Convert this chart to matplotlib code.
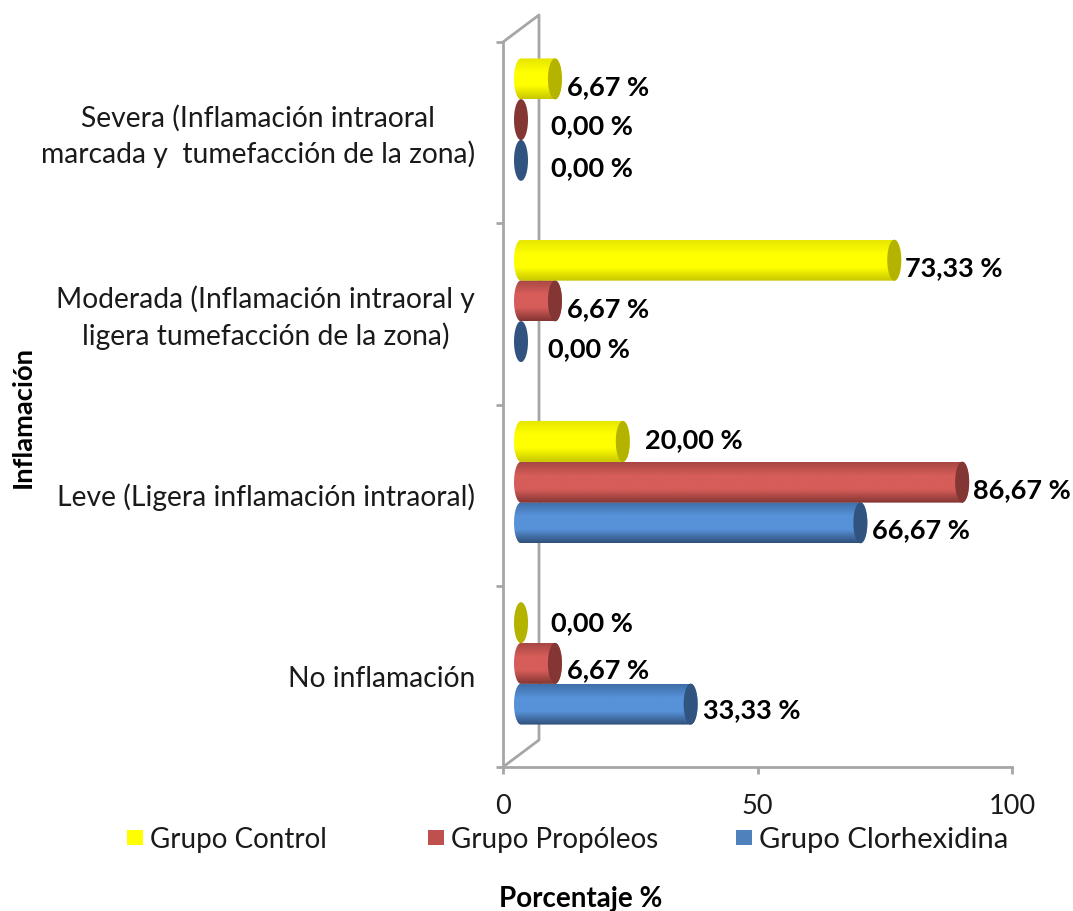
import matplotlib
matplotlib.use('Agg')
import matplotlib.pyplot as plt
import numpy as np
from matplotlib.colors import LinearSegmentedColormap
from matplotlib.patches import Polygon, Rectangle
from matplotlib.transforms import ScaledTranslation

plt.rcParams['font.family'] = ['Lato', 'DejaVu Sans']

categories = ['No inflamación',
              'Leve (Ligera inflamación intraoral)',
              'Moderada (Inflamación intraoral y\nligera tumefacción de la zona)',
              'Severa (Inflamación intraoral\nmarcada y  tumefacción de la zona)']
clorhexidina = [33.33, 66.67, 0.00, 0.00]
propoleos = [6.67, 86.67, 6.67, 0.00]
control = [0.00, 20.00, 73.33, 6.67]

W, H = 1073, 912
X0, X1, Y0, Y1 = 503, 1012, 768, 43   # plot area in pixels
px_x = (X1 - X0) / 100
px_y = (Y0 - Y1) / 4

# 3D look: floor shift of the bars, end cap radius
shift_x = 18 / px_x
shift_y = 13 / px_y
cap_rx = 7 / px_x
bar_h = 41 / px_y
pitch = 40.7 / px_y

# name, values, colours top/mid/bottom of the cylinder, cap colour, legend colour
series = [
    ('Grupo Clorhexidina', clorhexidina, ['#3f6ea8', '#5792d9', '#30507a'], '#30547f', '#4f81bd'),
    ('Grupo Propóleos', propoleos, ['#a84744', '#d65d59', '#843634'], '#843634', '#c0504d'),
    ('Grupo Control', control, ['#e6e600', '#ffff00', '#c8c800'], '#b3b300', '#ffff00'),
]

# small label nudges in pixels (dx, dy), per series and category
label_nudge = {
    'Grupo Clorhexidina': [(5, -5), (5, -6), (20, -7), (23, -7)],
    'Grupo Propóleos': [(5, -6), (4, -7), (5, -7), (23, -6)],
    'Grupo Control': [(23, 1), (15, 2), (4, -7), (5, -7)],
}

fig = plt.figure(figsize=(W / 100, H / 100), dpi=100)
ax = fig.add_axes([X0 / W, 1 - Y0 / H, (X1 - X0) / W, (Y0 - Y1) / H])
ax.set_xlim(0, 100)
ax.set_ylim(0, 4)

wall = '#a6a6a6'
for s in ['top', 'right']:
    ax.spines[s].set_visible(False)
for s in ['left', 'bottom']:
    ax.spines[s].set_color(wall)
    ax.spines[s].set_linewidth(2)

# ── back wall ─────────────────────────────────────────────────────
wall_dx = 36 / px_x
wall_dy = 27 / px_y
ax.plot([0, wall_dx, wall_dx, 0], [0, wall_dy, 4 + wall_dy, 4],
        color=wall, lw=2, clip_on=False, zorder=1)

# ── cylinders ─────────────────────────────────────────────────────
theta = np.linspace(-np.pi / 2, np.pi / 2, 40)
for k, (name, values, cols, cap, _) in enumerate(series):
    cmap = LinearSegmentedColormap.from_list(name, [cols[2], cols[1], cols[1], cols[0]])
    for i, v in enumerate(values):
        yc = i + 0.5 + shift_y + (k - 1) * pitch
        xe = shift_x + v
        if v > 0:
            right = np.c_[xe + cap_rx * np.cos(theta), yc + bar_h / 2 * np.sin(theta)]
            left = np.c_[shift_x - cap_rx * np.cos(theta[::-1]), yc + bar_h / 2 * np.sin(theta[::-1])]
            clip = Polygon(np.r_[right, left], closed=True, fc='none', ec='none', zorder=3 + k)
            ax.add_patch(clip)
            im = ax.imshow(np.linspace(0, 1, 64).reshape(-1, 1), cmap=cmap, aspect='auto',
                           extent=(shift_x - cap_rx, xe + cap_rx, yc - bar_h / 2, yc + bar_h / 2),
                           origin='lower', zorder=3 + k)
            im.set_clip_path(clip)
        t = np.linspace(0, 2 * np.pi, 80)
        ax.add_patch(Polygon(np.c_[xe + cap_rx * np.cos(t), yc + bar_h / 2 * np.sin(t)],
                             closed=True, fc=cap, ec='none', zorder=3.5 + k))
        dx, dy = label_nudge[name][i]
        label = f'{v:.2f}'.replace('.', ',') + ' %'
        ax.annotate(label, (xe + cap_rx, yc), xytext=(dx * 0.72, dy * 0.72),
                    textcoords='offset points', ha='left', va='center',
                    fontsize=19.5, fontweight='bold', color='black', zorder=10)

ax.set_xlim(0, 100)
ax.set_ylim(0, 4)

# ── axes text ─────────────────────────────────────────────────────
ax.set_xticks([0, 50, 100])
ax.tick_params(axis='x', length=5, width=2, color=wall, labelsize=19.5, pad=13.5, labelcolor='#1a1a1a')
ax.set_yticks(range(5))
ax.set_yticklabels([])
ax.tick_params(axis='y', which='major', length=5, width=2, color=wall)
ax.set_yticks(np.arange(4) + 0.5, minor=True)
ax.set_yticklabels(categories, minor=True, fontsize=20.3, color='#1a1a1a', linespacing=1.38)
ax.tick_params(axis='y', which='minor', length=0, pad=20)
for t, cat in zip(ax.get_yticklabels(minor=True), categories):
    t.set_multialignment('center')
    up = 4 if '\n' in cat else 1
    t.set_transform(t.get_transform() + ScaledTranslation(0, up / 100, fig.dpi_scale_trans))

fig.text(23 / W, 1 - 417 / H, 'Inflamación', rotation=90, ha='center', va='center',
         fontsize=19.7, fontweight='bold')
fig.text(581 / W, 1 - 899 / H, 'Porcentaje %', ha='center', va='center',
         fontsize=20, fontweight='bold')

# ── legend ────────────────────────────────────────────────────────
legend_x = {'Grupo Control': 127, 'Grupo Propóleos': 428, 'Grupo Clorhexidina': 736}
legend_size = {'Grupo Control': 20, 'Grupo Propóleos': 20, 'Grupo Clorhexidina': 21}
for name, _, _, _, col in series:
    x = legend_x[name]
    fig.add_artist(Rectangle((x / W, 1 - 846 / H), 16 / W, 15 / H, fc=col, ec='none',
                             transform=fig.transFigure))
    fig.text((x + 23) / W, 1 - 840 / H, name, ha='left', va='center',
             fontsize=legend_size[name], color='#1a1a1a')

fig.savefig('out.png', dpi=100)
